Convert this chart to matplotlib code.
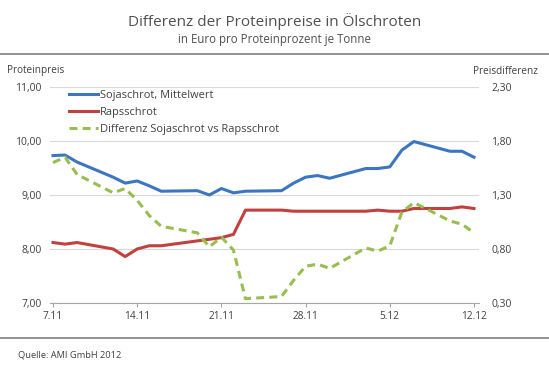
import pandas as pd
import matplotlib
matplotlib.use('Agg')
import matplotlib.pyplot as plt
from matplotlib.lines import Line2D

# Daten (Werktage, Euro pro Proteinprozent je Tonne)
dates = ['2012-11-07', '2012-11-08', '2012-11-09', '2012-11-12', '2012-11-13',
         '2012-11-14', '2012-11-15', '2012-11-16', '2012-11-19', '2012-11-20',
         '2012-11-21', '2012-11-22', '2012-11-23', '2012-11-26', '2012-11-27',
         '2012-11-28', '2012-11-29', '2012-11-30', '2012-12-03', '2012-12-04',
         '2012-12-05', '2012-12-06', '2012-12-07', '2012-12-10', '2012-12-11',
         '2012-12-12']
soja = [9.73, 9.74, 9.61, 9.33, 9.22, 9.26, 9.17, 9.07, 9.08, 9.00,
        9.12, 9.04, 9.07, 9.08, 9.22, 9.33, 9.36, 9.31, 9.49, 9.49,
        9.52, 9.83, 9.99, 9.81, 9.81, 9.70]
raps = [8.12, 8.09, 8.12, 8.00, 7.86, 8.00, 8.06, 8.06, 8.15, 8.18,
        8.21, 8.27, 8.72, 8.72, 8.70, 8.70, 8.70, 8.70, 8.70, 8.72,
        8.70, 8.70, 8.75, 8.75, 8.78, 8.75]
diff = [1.60, 1.65, 1.49, 1.32, 1.36, 1.25, 1.11, 1.01, 0.95, 0.82,
        0.91, 0.79, 0.34, 0.36, 0.51, 0.64, 0.66, 0.62, 0.81, 0.78,
        0.83, 1.14, 1.23, 1.06, 1.03, 0.95]

tick_dates = ['2012-11-07', '2012-11-14', '2012-11-21', '2012-11-28',
              '2012-12-05', '2012-12-12']
tick_labels = ['7.11', '14.11', '21.11', '28.11', '5.12', '12.12']
left_ticks = [7, 8, 9, 10, 11]
left_labels = ['7,00', '8,00', '9,00', '10,00', '11,00']
right_ticks = [0.3, 0.8, 1.3, 1.8, 2.3]
right_labels = ['0,30', '0,80', '1,30', '1,80', '2,30']

series_names = ['Sojaschrot, Mittelwert', 'Rapsschrot',
                'Differenz Sojaschrot vs Rapsschrot']

plt.rcParams['font.family'] = ['Open Sans', 'DejaVu Sans']
txt = '#404040'
W, H = 549, 377

x = pd.to_datetime(dates)
xt = pd.to_datetime(tick_dates)

fig = plt.figure(figsize=(W / 100, H / 100), dpi=100)
ax = fig.add_axes([50 / W, 1 - 303 / H, 429 / W, 216 / H])
ax2 = ax.twinx()

l1, = ax.plot(x, soja, color='#3d76c0', lw=2.2, solid_joinstyle='round')
l2, = ax.plot(x, raps, color='#c0413d', lw=2.2, solid_joinstyle='round')
l3, = ax2.plot(x, diff, color='#97be4f', lw=2.2, dashes=(2.6, 1.7))

ax.set_xlim(xt[0] - pd.Timedelta(hours=6), xt[-1] + pd.Timedelta(hours=10))
ax.set_ylim(7, 11)
ax2.set_ylim(0.3, 2.3)

ax.set_yticks(left_ticks)
ax.set_yticklabels(left_labels)
ax2.set_yticks(right_ticks)
ax2.set_yticklabels(right_labels)
ax.set_xticks(xt)
ax.set_xticklabels(tick_labels)

ax.yaxis.grid(True, color='#d9d9d9', lw=0.8)
ax.set_axisbelow(True)
for a in (ax, ax2):
    for s in a.spines.values():
        s.set_visible(False)
ax.spines['bottom'].set_visible(True)
ax.spines['bottom'].set_color('#a6a6a6')
ax.spines['bottom'].set_linewidth(0.8)

ax.tick_params(axis='x', direction='out', length=3, width=0.8, color='#a6a6a6',
               labelsize=7.3, labelcolor=txt, pad=3)
ax.tick_params(axis='y', length=0, labelsize=7.5, labelcolor=txt, pad=6)
ax2.tick_params(axis='y', length=0, labelsize=7.5, labelcolor=txt, pad=9)

ax.legend([l1, l2, l3], series_names, loc='upper left',
          bbox_to_anchor=(19 / 429, 1 - 3 / 216), frameon=False, fontsize=7.9,
          handlelength=2.6, handletextpad=0.2, labelspacing=0.55,
          borderpad=0, borderaxespad=0, labelcolor=txt)

fig.text(0.5, 1 - 21 / H, 'Differenz der Proteinpreise in Ölschroten',
         ha='center', va='center', fontsize=11, color='#505050')
fig.text(0.5, 1 - 40 / H, 'in Euro pro Proteinprozent je Tonne',
         ha='center', va='center', fontsize=8.3, color='#505050')
fig.text(7 / W, 1 - 71 / H, 'Proteinpreis', ha='left', va='center',
         fontsize=7.2, color=txt)
fig.text(538 / W, 1 - 71 / H, 'Preisdifferenz', ha='right', va='center',
         fontsize=7.2, color=txt)
fig.text(18 / W, 1 - 355 / H, 'Quelle: AMI GmbH 2012', ha='left', va='center',
         fontsize=6.7, color=txt)

for yy in (54, 337.5):
    fig.add_artist(Line2D([0, 1], [1 - yy / H, 1 - yy / H],
                          transform=fig.transFigure, color='#7f7f7f', lw=1.2))

fig.savefig('out.png', dpi=100, facecolor='white')
